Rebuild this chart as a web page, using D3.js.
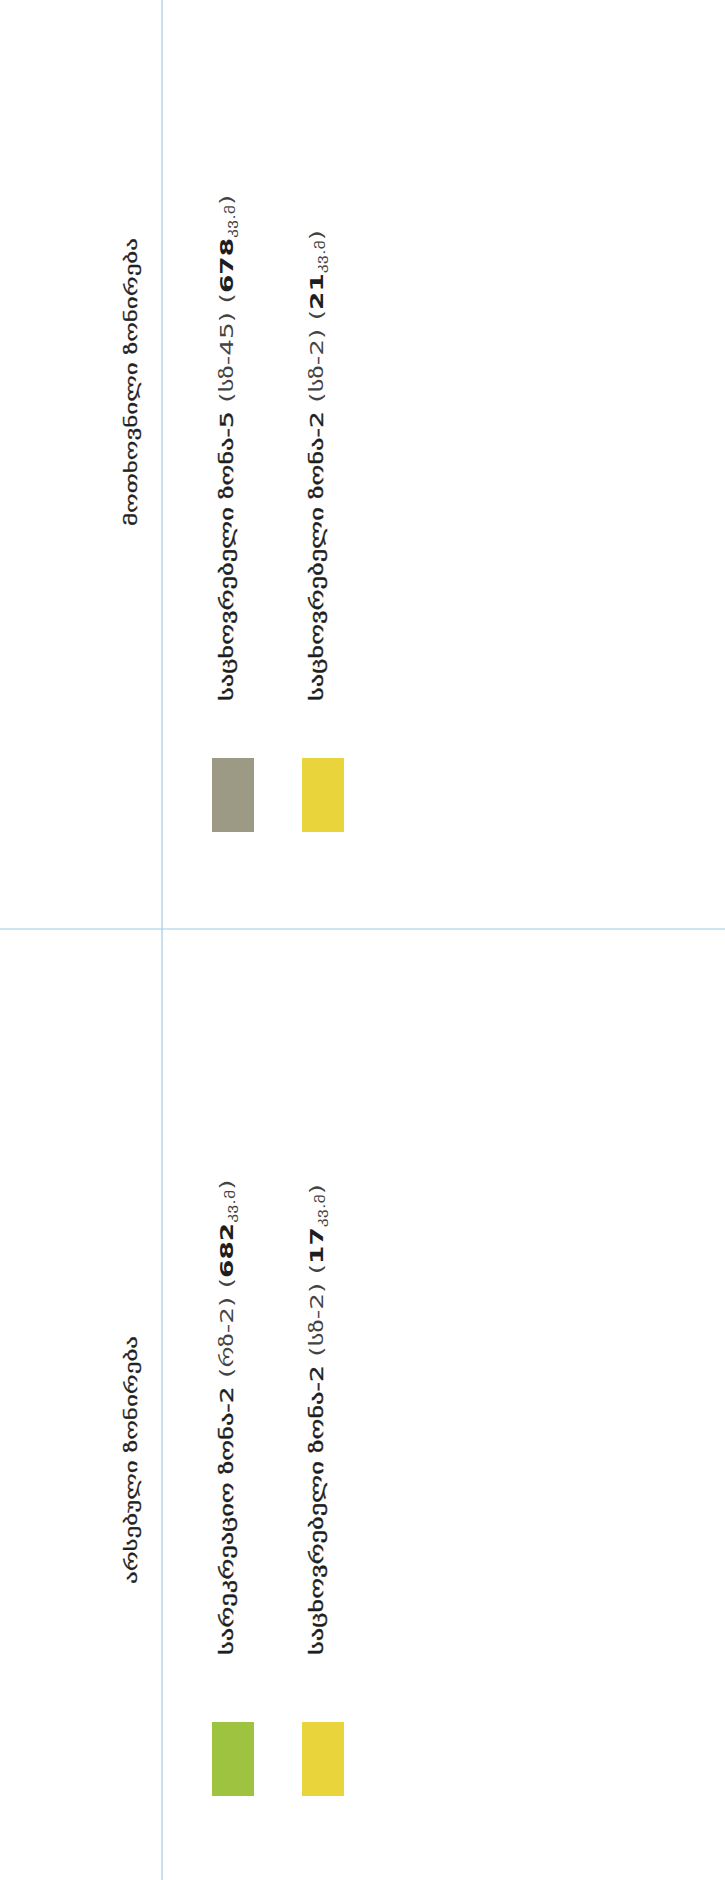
<!DOCTYPE html>
<html>
<head>
<meta charset="utf-8">
<script src="https://cdn.jsdelivr.net/npm/d3@7"></script>
<style>
  html, body { margin: 0; padding: 0; background: #fff; }
  svg { display: block; }
</style>
</head>
<body>
<div id="chart"></div>
<script>
// legend data: two sections (requested / existing), two zones each
const sections = ['მოთხოვნილი ზონირება', 'არსებული ზონირება'];
const zoneNames = [
  ['საცხოვრებელი ზონა-5', 'საცხოვრებელი ზონა-2'],
  ['სარეკრეაციო ზონა-2', 'საცხოვრებელი ზონა-2']
];
const zoneCodes = [['სზ-45', 'სზ-2'], ['რზ-2', 'სზ-2']];
const zoneAreas = [[678, 21], [682, 17]];
const zoneColors = [['#9c9a85', '#e9d43b'], ['#9dc340', '#e9d43b']];
const areaUnit = 'კვ.მ';

const W = 725, H = 1880;
const font = "'DejaVu Sans', sans-serif";
const lineColor = '#9fcbe6';
const stretch = 1.47; // source font is much wider than DejaVu's Georgian

const svg = d3.select('#chart').append('svg')
  .attr('width', W).attr('height', H)
  .attr('viewBox', `0 0 ${W} ${H}`);

// page is rotated: sections stack top to bottom, rows run left to right
const idx = d3.range(sections.length);
const sectionY = d3.scalePoint().domain(idx).range([832, 1796]);   // swatch bottoms
const labelY = d3.scalePoint().domain(idx).range([701, 1655]);     // label start (reads upward)
const headerY = d3.scalePoint().domain(idx).range([382, 1460]);
const rowX = d3.scaleBand().domain([0, 1]).range([188, 368]);
const headerX = 131;
const dividerX = 162, dividerY = 929;
const swW = 42, swH = 74;

// grid lines
svg.append('line')
  .attr('x1', dividerX).attr('y1', 0).attr('x2', dividerX).attr('y2', H)
  .attr('stroke', lineColor).attr('stroke-width', 1.2);
svg.append('line')
  .attr('x1', 0).attr('y1', dividerY).attr('x2', W).attr('y2', dividerY)
  .attr('stroke', lineColor).attr('stroke-width', 1.2);

sections.forEach((title, si) => {
  // header
  svg.append('text')
    .attr('transform', `translate(${headerX},${headerY(si)}) rotate(-90) scale(${stretch},1)`)
    .attr('text-anchor', 'middle').attr('dominant-baseline', 'central')
    .attr('font-family', font).attr('font-size', 17).attr('fill', '#222')
    .attr('stroke', '#222').attr('stroke-width', 0.25)
    .text(title);

  zoneNames[si].forEach((name, ri) => {
    const cx = rowX(ri) + rowX.bandwidth() / 2;
    const base = sectionY(si);

    svg.append('rect')
      .attr('x', cx - swW / 2).attr('y', base - swH)
      .attr('width', swW).attr('height', swH)
      .attr('fill', zoneColors[si][ri]);

    const t = svg.append('text')
      .attr('transform', `translate(${cx - 6},${labelY(si)}) rotate(-90) scale(${stretch},1)`)
      .attr('text-anchor', 'start').attr('dominant-baseline', 'central')
      .attr('font-family', font).attr('font-size', 18).attr('fill', '#1e1e1e');
    t.append('tspan').attr('stroke', '#1e1e1e').attr('stroke-width', 0.35).text(name + ' ');
    t.append('tspan').attr('fill', '#444').text('(' + zoneCodes[si][ri] + ') (');
    t.append('tspan').attr('font-weight', 'bold').text(zoneAreas[si][ri]);
    t.append('tspan').attr('font-size', 12).attr('dy', 4).attr('fill', '#444').text(areaUnit);
    t.append('tspan').attr('dy', -4).attr('fill', '#444').text(')');
  });
});
</script>
</body>
</html>
